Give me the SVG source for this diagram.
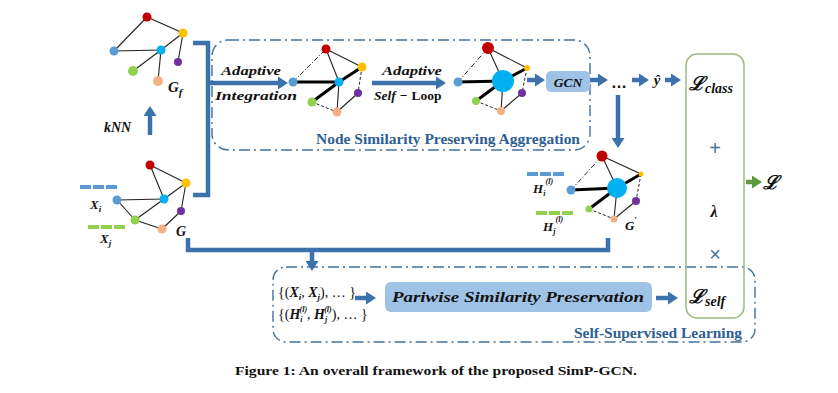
<svg xmlns="http://www.w3.org/2000/svg" width="838" height="393" viewBox="0 0 838 393">
<defs>
<marker id="ah" markerUnits="userSpaceOnUse" markerWidth="11" markerHeight="13" refX="1" refY="6.5" orient="auto">
<path d="M0,0 L10,6.5 L0,13 z" fill="#3b72ac"/>
</marker>
<marker id="ahg" markerUnits="userSpaceOnUse" markerWidth="11" markerHeight="13" refX="1" refY="6.5" orient="auto">
<path d="M0,0 L10,6.5 L0,13 z" fill="#5f9a3c"/>
</marker>
<style>
.e{stroke:#222;stroke-width:1.1;fill:none}
.t{stroke:#000;stroke-width:3;fill:none}
.d{stroke:#222;stroke-width:1;stroke-dasharray:3 2;fill:none}
.dd{stroke:#222;stroke-width:1;stroke-dasharray:5 2 1 2;fill:none}
.ar{stroke:#3b72ac;stroke-width:4.5;fill:none;marker-end:url(#ah)}
.ln{stroke:#3b72ac;stroke-width:4.5;fill:none}
.box{fill:none;stroke:#41719c;stroke-width:1.4;stroke-dasharray:11 4 2 4}
.lbl{font-family:"Liberation Serif",serif;font-weight:bold;font-size:14.5px;fill:#2f5f92}
.m{font-family:"Liberation Serif","DejaVu Serif",serif;font-weight:bold;font-style:italic;fill:#111}
.sc{font-family:"DejaVu Serif","Liberation Serif",serif;font-weight:bold;font-style:italic;fill:#111}
.r{fill:#c00000}.y{fill:#ffc000}.b{fill:#5b9bd5}.c{fill:#00b0f0}.p{fill:#7030a0}.g{fill:#92d050}.k{fill:#f4b183}
.pill{fill:#9fc3e7}
</style>
</defs>
<rect width="838" height="393" fill="#fff"/>

<!-- connectors -->
<g id="connectors">
<path class="ln" d="M193,43 H208 V195 H193" stroke-width="4"/>
<path class="ar" d="M208,83 H279"/>
<path class="ar" d="M372,83 H437"/>
<path class="ar" d="M527,80 H536"/>
<path class="ar" d="M590,80 H599"/>
<path class="ar" d="M632,80 H640"/>
<path class="ar" d="M665,80 H672"/>
<path class="ar" d="M618,95 V139"/>
<path class="ar" d="M150,135 V115"/>
<path class="ln" d="M188,238 V250 H608 V238"/>
<path class="ar" d="M312,250 V262"/>
<path class="ar" d="M355,298 H367"/>
<path class="ar" d="M656,298 H669"/>
<path d="M746,182 H753" stroke="#5f9a3c" stroke-width="4.5" fill="none" marker-end="url(#ahg)"/>
</g>

<!-- group boxes -->
<g id="nspa">
<rect class="box" x="212" y="40" width="378" height="110" rx="16"/>
<text class="lbl" x="316" y="144" textLength="264" lengthAdjust="spacingAndGlyphs">Node Similarity Preserving Aggregation</text>
</g>
<g id="ssl">
<rect class="box" x="273" y="267" width="482" height="75" rx="13"/>
<text class="lbl" x="574" y="338" textLength="168" lengthAdjust="spacingAndGlyphs">Self-Supervised Learning</text>
</g>

<!-- Gf graph -->
<g id="graph-gf">
<line class="e" x1="147" y1="17" x2="183" y2="33"/>
<line class="e" x1="147" y1="17" x2="114" y2="51"/>
<line class="e" x1="114" y1="51" x2="161" y2="50"/>
<line class="e" x1="161" y1="50" x2="183" y2="33"/>
<line class="e" x1="183" y1="33" x2="178" y2="62"/>
<line class="e" x1="161" y1="50" x2="133" y2="71"/>
<line class="e" x1="161" y1="50" x2="158" y2="81"/>
<circle class="r" cx="147" cy="17" r="4.5"/>
<circle class="y" cx="183" cy="33" r="4.5"/>
<circle class="b" cx="114" cy="51" r="4.5"/>
<circle class="c" cx="161" cy="50" r="4.5"/>
<circle class="p" cx="178" cy="62" r="4"/>
<circle class="g" cx="133" cy="71" r="5"/>
<circle class="k" cx="158" cy="81" r="5"/>
<text class="m" x="168" y="92" font-size="15">G<tspan font-size="11" dy="4">f</tspan></text>
</g>

<g id="knn">
<text class="m" x="104" y="132" font-size="14">kNN</text>
</g>

<!-- G graph -->
<g id="graph-g">
<rect x="80" y="185" width="11" height="4" class="b"/>
<rect x="93" y="185" width="11" height="4" class="b"/>
<rect x="106" y="185" width="11" height="4" class="b"/>
<rect x="88" y="225" width="11" height="4" class="g"/>
<rect x="101" y="225" width="11" height="4" class="g"/>
<rect x="114" y="225" width="11" height="4" class="g"/>
<text class="m" x="90" y="209" font-size="13">X<tspan font-size="9" dy="3">i</tspan></text>
<text class="m" x="100" y="243" font-size="13">X<tspan font-size="9" dy="3">j</tspan></text>
<line class="e" x1="150" y1="165" x2="186" y2="183"/>
<line class="e" x1="150" y1="165" x2="164" y2="199"/>
<line class="e" x1="186" y1="183" x2="164" y2="199"/>
<line class="e" x1="117" y1="200" x2="164" y2="199"/>
<line class="e" x1="164" y1="199" x2="135" y2="220"/>
<line class="e" x1="186" y1="183" x2="181" y2="211"/>
<line class="e" x1="181" y1="211" x2="162" y2="229"/>
<line class="e" x1="135" y1="220" x2="162" y2="229"/>
<line class="e" x1="117" y1="200" x2="135" y2="220"/>
<circle class="r" cx="150" cy="165" r="4.5"/>
<circle class="y" cx="186" cy="183" r="4.5"/>
<circle class="b" cx="117" cy="200" r="4.5"/>
<circle class="c" cx="164" cy="199" r="4.5"/>
<circle class="p" cx="181" cy="211" r="4"/>
<circle class="g" cx="135" cy="220" r="4.5"/>
<circle class="k" cx="162" cy="229" r="4.5"/>
<text class="m" x="176" y="236" font-size="14">G</text>
</g>

<!-- adaptive integration label -->
<g id="ai-label">
<text class="m" x="221" y="75" font-size="13.5" textLength="60" lengthAdjust="spacingAndGlyphs">Adaptive</text>
<text class="m" x="215" y="100" font-size="13.5" textLength="82" lengthAdjust="spacingAndGlyphs">Integration</text>
</g>

<!-- middle graph 1 -->
<g id="graph-mid1">
<line class="dd" x1="293" y1="82" x2="326" y2="49"/>
<line class="e" x1="326" y1="49" x2="362" y2="67"/>
<line class="e" x1="326" y1="49" x2="339" y2="82"/>
<line class="t" x1="293" y1="82" x2="339" y2="82"/>
<line class="t" x1="339" y1="82" x2="362" y2="67"/>
<line class="t" x1="339" y1="82" x2="312" y2="102"/>
<line class="d" x1="362" y1="67" x2="358" y2="93"/>
<line class="e" x1="358" y1="93" x2="337" y2="112"/>
<line class="e" x1="339" y1="82" x2="337" y2="112"/>
<line class="d" x1="312" y1="102" x2="337" y2="112"/>
<circle class="r" cx="326" cy="49" r="4.5"/>
<circle class="y" cx="362" cy="67" r="4.5"/>
<circle class="b" cx="293" cy="82" r="4.5"/>
<circle class="c" cx="339" cy="82" r="4.5"/>
<circle class="p" cx="358" cy="93" r="4"/>
<circle class="g" cx="312" cy="102" r="4.5"/>
<circle class="k" cx="337" cy="112" r="4.5"/>
</g>

<g id="asl-label">
<text class="m" x="382" y="75" font-size="13.5" textLength="60" lengthAdjust="spacingAndGlyphs">Adaptive</text>
<text class="m" x="374" y="100" font-size="13.5">Self<tspan font-style="normal" dx="4">−</tspan><tspan font-style="normal" dx="4">Loop</tspan></text>
</g>

<!-- middle graph 2 -->
<g id="graph-mid2">
<line class="dd" x1="458" y1="82" x2="488" y2="48"/>
<line class="e" x1="488" y1="48" x2="527" y2="68"/>
<line class="e" x1="488" y1="48" x2="503" y2="81"/>
<line class="t" x1="458" y1="82" x2="503" y2="81"/>
<line class="t" x1="503" y1="81" x2="527" y2="68"/>
<line class="t" x1="503" y1="81" x2="476" y2="101"/>
<line class="d" x1="527" y1="68" x2="522" y2="93"/>
<line class="e" x1="522" y1="93" x2="501" y2="111"/>
<line class="e" x1="503" y1="81" x2="501" y2="111"/>
<line class="d" x1="476" y1="101" x2="501" y2="111"/>
<circle class="r" cx="488" cy="48" r="6"/>
<circle class="y" cx="527" cy="68" r="3"/>
<circle class="b" cx="458" cy="82" r="4.5"/>
<circle class="c" cx="503" cy="81" r="11"/>
<circle class="p" cx="522" cy="93" r="4"/>
<circle class="g" cx="476" cy="101" r="4"/>
<circle class="k" cx="501" cy="111" r="4"/>
</g>

<g id="gcn">
<rect class="pill" x="546" y="71" width="44" height="21" rx="5"/>
<text class="m" x="568" y="86.5" font-size="13.5" text-anchor="middle">GCN</text>
</g>

<g id="dots"><text x="611" y="88" font-family="Liberation Sans,sans-serif" font-weight="bold" font-size="16" fill="#111">…</text></g>
<g id="yhat"><text class="m" x="657" y="85" font-size="15" text-anchor="middle">ŷ</text></g>

<!-- loss box -->
<g id="loss">
<rect x="686" y="54" width="58" height="264" rx="11" fill="none" stroke="#9dbb80" stroke-width="1.5"/>
<text class="sc" x="689" y="90" font-size="19">ℒ<tspan font-size="14" dy="3" font-family="Liberation Serif,serif">class</tspan></text>
<text x="715" y="155" font-family="Liberation Sans,sans-serif" font-size="20" fill="#41719c" text-anchor="middle">+</text>
<text class="m" x="714" y="217" font-size="16" text-anchor="middle">λ</text>
<text x="715" y="261" font-family="Liberation Sans,sans-serif" font-size="20" fill="#41719c" text-anchor="middle">×</text>
<text class="sc" x="689" y="303" font-size="19">ℒ<tspan font-size="14" dy="3" font-family="Liberation Serif,serif">self</tspan></text>
</g>

<g id="final-loss"><text class="sc" x="763" y="189" font-size="19">ℒ</text></g>

<!-- G' graph -->
<g id="graph-gprime">
<rect x="527" y="172" width="11" height="4" class="b"/>
<rect x="540" y="172" width="11" height="4" class="b"/>
<rect x="553" y="172" width="11" height="4" class="b"/>
<rect x="536" y="211" width="11" height="4" class="g"/>
<rect x="549" y="211" width="11" height="4" class="g"/>
<rect x="562" y="211" width="11" height="4" class="g"/>
<text class="m" x="533" y="193" font-size="13">H<tspan font-size="8" dy="3">i</tspan></text>
<text class="m" x="545.5" y="184" font-size="8">(l)</text>
<text class="m" x="543" y="231" font-size="13">H<tspan font-size="8" dy="3">j</tspan></text>
<text class="m" x="555.5" y="222" font-size="8">(l)</text>
<line class="dd" x1="571" y1="190" x2="602" y2="156"/>
<line class="e" x1="602" y1="156" x2="641" y2="174"/>
<line class="e" x1="602" y1="156" x2="617" y2="188"/>
<line class="t" x1="571" y1="190" x2="617" y2="188"/>
<line class="t" x1="617" y1="188" x2="641" y2="174"/>
<line class="t" x1="617" y1="188" x2="589" y2="209"/>
<line class="d" x1="641" y1="174" x2="636" y2="201"/>
<line class="e" x1="636" y1="201" x2="614" y2="219"/>
<line class="e" x1="617" y1="188" x2="614" y2="219"/>
<line class="d" x1="589" y1="209" x2="614" y2="219"/>
<circle class="r" cx="602" cy="156" r="5.5"/>
<circle class="y" cx="641" cy="174" r="2.5"/>
<circle class="b" cx="571" cy="190" r="4.5"/>
<circle class="c" cx="617" cy="188" r="10"/>
<circle class="p" cx="636" cy="201" r="4"/>
<circle class="g" cx="589" cy="209" r="3.5"/>
<circle class="k" cx="614" cy="219" r="3.5"/>
<text class="m" x="625" y="230" font-size="13">G<tspan font-size="9" dy="-7" font-style="normal">′</tspan></text>
</g>

<!-- pairs -->
<g id="pairs">
<text x="278" y="297" font-family="Liberation Serif,serif" font-size="14" fill="#111">{(<tspan class="m">X</tspan><tspan class="m" font-size="9" dy="3">i</tspan><tspan dy="-3">, </tspan><tspan class="m">X</tspan><tspan class="m" font-size="9" dy="3">j</tspan><tspan dy="-3">), … }</tspan></text>
<text x="278" y="319" font-family="Liberation Serif,serif" font-size="14" fill="#111">{(<tspan class="m">H</tspan><tspan class="m" font-size="8" dy="3">i</tspan><tspan class="m" font-size="8" dy="-10" dx="-3">(l)</tspan><tspan dy="7">, </tspan><tspan class="m">H</tspan><tspan class="m" font-size="8" dy="3">j</tspan><tspan class="m" font-size="8" dy="-10" dx="-3">(l)</tspan><tspan dy="7">), … }</tspan></text>
</g>

<g id="pariwise">
<rect class="pill" x="385" y="282" width="267" height="30" rx="6"/>
<text class="m" x="518" y="302" font-size="15" text-anchor="middle" textLength="252" lengthAdjust="spacingAndGlyphs">Pariwise Similarity Preservation</text>
</g>

<g id="caption">
<text x="235" y="375" font-family="Liberation Serif,serif" font-weight="bold" font-size="13.5" fill="#111" textLength="402" lengthAdjust="spacingAndGlyphs">Figure 1: An overall framework of the proposed SimP-GCN.</text>
</g>
</svg>
